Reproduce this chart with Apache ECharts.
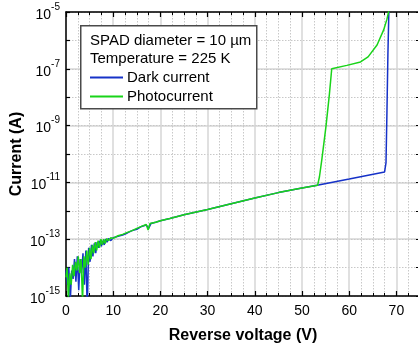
<!DOCTYPE html>
<html>
<head>
<meta charset="utf-8">
<script src="https://cdn.jsdelivr.net/npm/echarts@6/dist/echarts.min.js"></script>
<style>html,body{margin:0;padding:0;background:#fff}#c{width:418px;height:349px}</style>
</head>
<body>
<div id="c"></div>
<script>
// Dark current (blue)
const darkV = [0,0.3,0.6,0.9,1.2,1.5,1.8,2.1,2.4,2.7,3.0,3.3,3.6,3.9,4.2,4.5,4.8,5.1,5.4,5.7,6.0,6.3,6.6,6.9,7.2,7.5,7.8,8.1,8.4,8.7,9.0,9.5,10,11,12,13,14,15,16,17,17.5,18,19,20,22,25,30,35,40,45,50,53.5,60,67.5,67.8,68.0,68.2,68.4];
const darkI = [8.0e-15,2.5e-15,1.0e-14,6.3e-16,7.9e-15,4.0e-15,2.0e-14,3.2e-15,2.5e-14,1.6e-15,2.0e-14,6.3e-15,3.2e-14,2.5e-15,4.0e-14,3.2e-16,5.0e-14,1.6e-14,6.3e-14,2.5e-14,7.1e-14,3.2e-14,7.9e-14,5.0e-14,8.9e-14,5.6e-14,8.9e-14,6.3e-14,1.0e-13,7.9e-14,1.05e-13,8.9e-14,1.12e-13,1.26e-13,1.41e-13,1.66e-13,2.0e-13,2.24e-13,2.82e-13,3.16e-13,2.4e-13,3.55e-13,3.98e-13,4.47e-13,5.37e-13,7.24e-13,1.12e-12,1.78e-12,2.82e-12,4.37e-12,6.3e-12,8.1e-12,1.32e-11,2.34e-11,5.0e-11,3.2e-9,3.2e-7,1.0e-5];
// Photocurrent (green)
const photoV = [0,0.25,0.5,0.8,1.1,1.4,1.7,2.0,2.3,2.6,2.9,3.2,3.5,3.8,4.1,4.4,4.7,5.0,5.3,5.6,5.9,6.2,6.5,6.8,7.1,7.4,7.7,8.0,8.3,8.6,9.0,9.5,10,11,12,13,14,15,16,17,17.4,17.8,19,20,22,25,30,35,40,45,50,53.3,53.7,54.2,55.1,55.8,56.3,56.7,59.5,62.4,64,65.9,67.3,68.0,68.4];
const photoI = [4.5e-15,1.0e-14,7.9e-16,6.3e-15,2.5e-15,1.26e-14,5.0e-15,1.6e-14,7.9e-15,2.5e-14,6.3e-15,2.0e-14,6.3e-16,2.5e-14,1.0e-14,4.0e-14,1.26e-14,5.0e-14,2.0e-14,6.3e-14,3.2e-14,7.9e-14,4.0e-14,8.9e-14,5.0e-14,1.0e-13,6.3e-14,1.0e-13,7.1e-14,1.05e-13,8.9e-14,1.12e-13,1.07e-13,1.32e-13,1.48e-13,1.74e-13,2.0e-13,2.4e-13,2.82e-13,3.31e-13,2.09e-13,3.55e-13,3.98e-13,4.47e-13,5.37e-13,7.24e-13,1.12e-12,1.78e-12,2.82e-12,4.37e-12,6.3e-12,7.9e-12,1.58e-11,6.3e-11,1.0e-9,1.26e-8,1.0e-7,1.1e-7,1.32e-7,1.74e-7,2.63e-7,6.9e-7,2.34e-6,5.6e-6,1.12e-5];

const seriesNames = ['Dark current', 'Photocurrent'];
const infoLines = ['SPAD diameter = 10 µm', 'Temperature = 225 K'];
const xTicks = [0, 10, 20, 30, 40, 50, 60, 70];
const yLabelExps = [-15, -13, -11, -9, -7, -5];

const FONT = '"Liberation Sans", Arial, sans-serif';
const chart = echarts.init(document.getElementById('c'), null, {renderer: 'canvas'});

function pairs(xs, ys) { return xs.map((x, i) => [x, ys[i]]); }

const xCommon = {
  type: 'value', min: 0, max: 75, interval: 10,
  axisLine: {show: true, onZero: false, lineStyle: {color: '#000', width: 1.5}},
  axisTick: {show: true, inside: true, length: 5, lineStyle: {color: '#000', width: 1.2}},
  minorTick: {show: true, splitNumber: 4, length: 3, lineStyle: {color: '#000', width: 1}},
};
const yCommon = {
  type: 'log', logBase: 10, min: 1e-15, max: 1e-5, interval: 1,
  axisLine: {show: true, onZero: false, lineStyle: {color: '#000', width: 1.5}},
  axisTick: {show: true, inside: true, length: 4, lineStyle: {color: '#000', width: 1.2}},
};

chart.setOption({
  animation: false,
  backgroundColor: '#fff',
  grid: {left: 66, top: 12, width: 354, height: 284, containLabel: false, outerBoundsMode: 'none'},
  xAxis: [
    Object.assign({}, xCommon, {
      position: 'bottom',
      axisLabel: {show: true, margin: 8, fontSize: 14, color: '#000', fontFamily: FONT, showMaxLabel: false,
        formatter: v => xTicks.indexOf(v) >= 0 ? String(v) : ''},
      splitLine: {show: true, lineStyle: {color: '#d6d6d6', width: 1.5}},
      minorSplitLine: {show: true, lineStyle: {color: '#c8c8c8', width: 1, type: [1.5, 1.5]}},
      name: 'Reverse voltage (V)', nameLocation: 'middle', nameGap: 32, nameMoveOverlap: false,
      nameTextStyle: {fontSize: 16, fontWeight: 'bold', color: '#000', fontFamily: FONT}
    }),
    Object.assign({}, xCommon, {
      position: 'top', axisLabel: {show: false}, splitLine: {show: false}
    })
  ],
  yAxis: [
    Object.assign({}, yCommon, {
      position: 'left',
      axisLabel: {show: true, margin: 6, color: '#000', fontFamily: FONT,
        formatter: v => {
          const e = Math.round(Math.log10(v));
          return yLabelExps.indexOf(e) >= 0 ? '{b|10}{s|' + e + '}' : '';
        },
        rich: {
          b: {fontSize: 14, fontFamily: FONT, color: '#000', verticalAlign: 'bottom', lineHeight: 20},
          s: {fontSize: 10, fontFamily: FONT, color: '#000', verticalAlign: 'top', lineHeight: 20}
        }
      },
      splitLine: {show: true, lineStyle: {color: ['#d6d6d6', 'rgba(0,0,0,0)'], width: 1.5}},
      name: 'Current (A)', nameLocation: 'middle', nameGap: 41, nameMoveOverlap: false,
      nameTextStyle: {fontSize: 16, fontWeight: 'bold', color: '#000', fontFamily: FONT}
    }),
    Object.assign({}, yCommon, {
      position: 'right', axisLabel: {show: false},
      splitLine: {show: true, lineStyle: {color: '#c8c8c8', width: 1, type: [1.5, 1.5]}}
    })
  ],
  legend: {
    orient: 'vertical', left: 90, top: 68, padding: 0, itemGap: 0,
    itemWidth: 33, itemHeight: 2, icon: 'rect',
    textStyle: {fontSize: 15, fontFamily: FONT, color: '#000', lineHeight: 19, padding: [0, 0, 0, -1]},
    data: seriesNames, selectedMode: false, z: 10
  },
  graphic: [
    {type: 'rect', left: 80, top: 25, z: 5, shape: {width: 176, height: 83},
      style: {fill: '#fff', stroke: '#4a4a4a', lineWidth: 1.5}},
    {type: 'text', left: 90, top: 33, z: 6, style: {text: infoLines[0], font: '15px ' + FONT, fill: '#000'}},
    {type: 'text', left: 90, top: 51, z: 6, style: {text: infoLines[1], font: '15px ' + FONT, fill: '#000'}}
  ],
  series: [
    {name: seriesNames[0], type: 'line', xAxisIndex: 0, yAxisIndex: 0, data: pairs(darkV, darkI),
      showSymbol: false, symbol: 'none', lineStyle: {color: '#1632c8', width: 1.5}, itemStyle: {color: '#1632c8'}, clip: true, z: 3},
    {name: seriesNames[1], type: 'line', xAxisIndex: 0, yAxisIndex: 0, data: pairs(photoV, photoI),
      showSymbol: false, symbol: 'none', lineStyle: {color: '#19d419', width: 1.5}, itemStyle: {color: '#19d419'}, clip: true, z: 4}
  ]
});
</script>
</body>
</html>
